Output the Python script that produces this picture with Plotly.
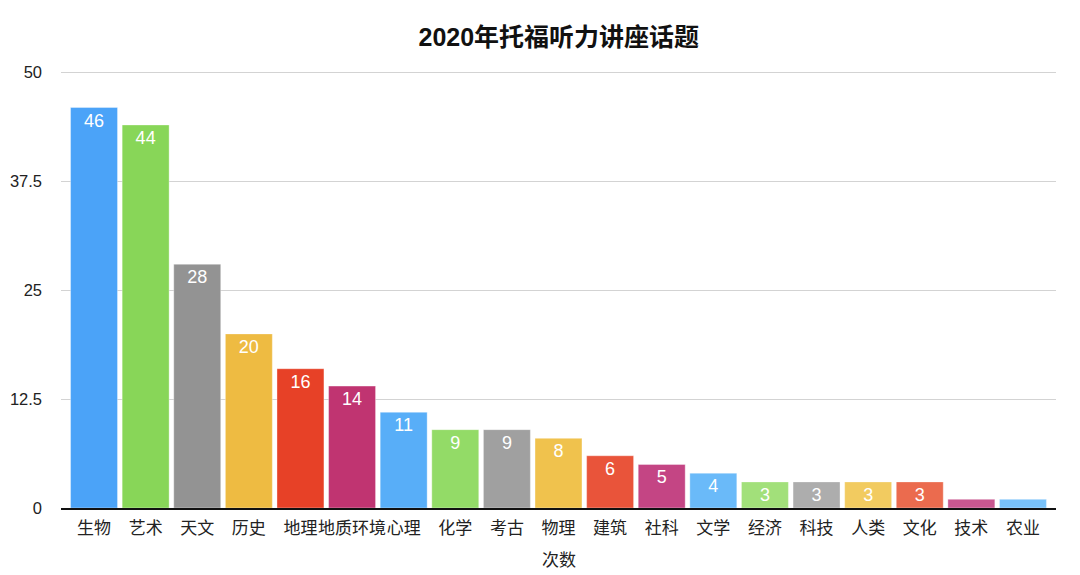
import plotly.graph_objects as go

categories = ["生物", "艺术", "天文", "历史", "地理", "地质环境", "心理", "化学", "考古", "物理",
              "建筑", "社科", "文学", "经济", "科技", "人类", "文化", "技术", "农业"]
values = [46, 44, 28, 20, 16, 14, 11, 9, 9, 8, 6, 5, 4, 3, 3, 3, 3, 1, 1]
labels = ["46", "44", "28", "20", "16", "14", "11", "9", "9", "8", "6", "5", "4", "3", "3", "3", "3", "", ""]
colors = ["#4BA3F8", "#88D658", "#939393", "#EEBB42", "#E74127", "#C03471",
          "#58AEF8", "#93DB67", "#A0A0A0", "#F0C24D", "#E9543A", "#C44584",
          "#6ABAF9", "#A2E07A", "#ADADAD", "#F2CB60", "#EB6B4E", "#C85790", "#79C2FA"]
y_ticks = [0, 12.5, 25, 37.5, 50]
y_tick_labels = ["0", "12.5", "25", "37.5", "50"]

FONT = "Liberation Sans, Noto Sans CJK SC, sans-serif"

fig = go.Figure(go.Bar(
    x=categories, y=values, text=labels,
    textposition="inside", insidetextanchor="end",
    textfont=dict(color="white", size=18, family=FONT),
    marker=dict(color=colors, line=dict(color="rgba(255,255,255,0.35)", width=1)),
    constraintext="none",
))

fig.update_layout(
    width=1080, height=575,
    margin=dict(l=53, r=32, t=56, b=75, autoexpand=False),
    paper_bgcolor="white", plot_bgcolor="white",
    bargap=0.09,
    showlegend=False,
    font=dict(family=FONT, color="#222222"),
    title=dict(text="<b>2020年托福听力讲座话题</b>", x=0.510, xanchor="center",
               y=0.9496, yanchor="middle", font=dict(size=25, color="#111111", family=FONT)),
    xaxis=dict(range=[-0.64, 18.64], showgrid=False, tickfont=dict(size=17, color="#222222"),
               showline=True, linecolor="#111111", linewidth=2, ticks="", automargin=False,
               ticklabelstandoff=4, tickangle=0),
    yaxis=dict(range=[0, 51], tickvals=y_ticks, ticktext=y_tick_labels,
               tickfont=dict(size=16.5, color="#222222"), showgrid=True, gridcolor="#D3D3D3",
               gridwidth=1, zeroline=False, ticks="", ticklabelstandoff=18, automargin=False),
    annotations=[dict(text="次数", x=0.5, xref="paper", y=-0.118, yref="paper",
                      yanchor="middle", showarrow=False,
                      font=dict(size=17, color="#222222", family=FONT))],
)

fig.write_html("out.html")
